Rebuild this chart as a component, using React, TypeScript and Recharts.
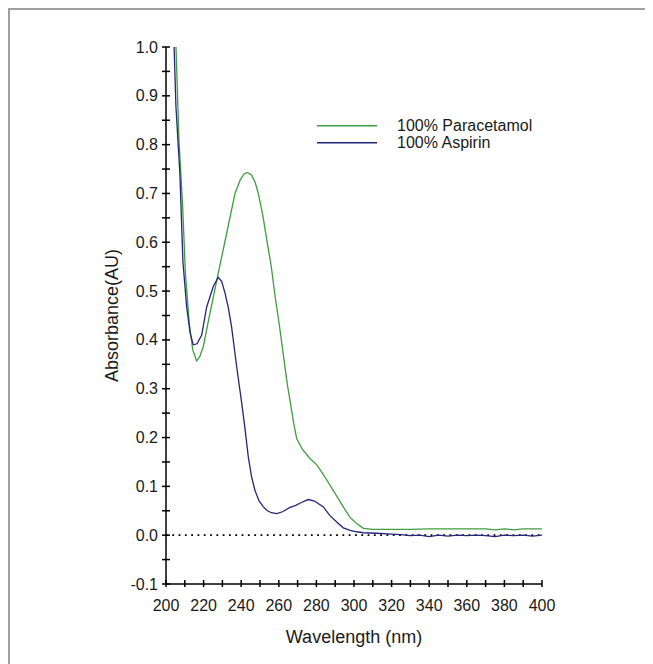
import React from 'react';
import { LineChart, Line, XAxis, YAxis, ReferenceLine, Legend } from 'recharts';

const paracetamolNm = [
  205.3, 206.9, 208.9, 210.3, 212.4, 214.2, 216.3, 218.0, 219.8, 223.4, 227.8, 232.3, 236.7,
  239.5, 241.5, 243.2, 245.5, 247.5, 249.1, 251.5, 253.6, 256.0, 258.0, 260.3, 262.4, 264.5,
  266.0, 268.0, 269.5, 272.5, 276.6, 280.2, 283.0, 285.5, 290.0, 294.3, 298.0, 301.4, 305.0,
  310.0, 320.0, 330.0, 340.0, 350.0, 360.0, 370.0, 375.0, 380.0, 385.0, 390.0, 400.0,
];
const paracetamolAbs = [
  1.0, 0.81, 0.67, 0.537, 0.434, 0.38, 0.357, 0.366, 0.386, 0.455, 0.537, 0.619, 0.7,
  0.728, 0.74, 0.743, 0.738, 0.722, 0.7, 0.655, 0.605, 0.55, 0.49, 0.43, 0.37, 0.31,
  0.275, 0.228, 0.198, 0.176, 0.157, 0.144, 0.128, 0.113, 0.085, 0.058, 0.036, 0.024, 0.014,
  0.012, 0.012, 0.012, 0.013, 0.013, 0.013, 0.013, 0.011, 0.013, 0.011, 0.013, 0.013,
];

const aspirinNm = [
  204.3, 205.3, 207.4, 209.0, 211.0, 212.8, 214.5, 216.5, 219.0, 221.6, 225.2, 227.8, 229.6,
  231.4, 233.2, 234.9, 237.6, 240.3, 241.8, 243.8, 245.5, 247.3, 249.5, 251.8, 253.6, 256.0,
  258.9, 262.0, 266.0, 269.0, 272.0, 275.7, 279.0, 283.7, 287.2, 290.8, 294.3, 297.9, 301.4,
  305.0, 312.0, 320.0, 325.0, 330.0, 335.0, 340.0, 345.0, 350.0, 355.0, 360.0, 365.0, 370.0,
  375.0, 380.0, 385.0, 390.0, 395.0, 400.0,
];
const aspirinAbs = [
  1.0, 0.877, 0.74, 0.56, 0.467, 0.415, 0.39, 0.392, 0.41, 0.467, 0.51, 0.528, 0.52,
  0.496, 0.465, 0.426, 0.345, 0.27, 0.225, 0.16, 0.12, 0.092, 0.07, 0.058, 0.051, 0.046,
  0.044, 0.048, 0.057, 0.061, 0.067, 0.073, 0.07, 0.058, 0.04, 0.027, 0.015, 0.01, 0.007,
  0.005, 0.004, 0.002, 0.001, -0.001, 0.0, -0.003, 0.0, -0.002, 0.0, -0.001, 0.0, -0.001,
  -0.003, 0.0, -0.001, 0.0, -0.002, 0.0,
];

const xTicks = [200, 210, 220, 230, 240, 250, 260, 270, 280, 290, 300, 310, 320, 330, 340, 350, 360, 370, 380, 390, 400];
const yTicks = [-0.1, -0.05, 0, 0.05, 0.1, 0.15, 0.2, 0.25, 0.3, 0.35, 0.4, 0.45, 0.5, 0.55, 0.6, 0.65, 0.7, 0.75, 0.8, 0.85, 0.9, 0.95, 1.0];

const seriesNames = ['100% Paracetamol', '100% Aspirin'];
const seriesColors = ['#3f9c3f', '#25257a'];

const paracetamolData = paracetamolNm.map((nm, i) => ({ nm, abs: paracetamolAbs[i] }));
const aspirinData = aspirinNm.map((nm, i) => ({ nm, abs: aspirinAbs[i] }));

const FONT = '"Liberation Sans", Arial, sans-serif';
const TEXT = '#1a1a1a';

const XTick = (props: any) => {
  const { x, y, payload } = props;
  const v = payload.value;
  const major = v % 20 === 0;
  return (
    <g>
      <line x1={x} x2={x} y1={y - 4} y2={y + 3} stroke="#000" strokeWidth={1.5} />
      {major && (
        <text x={x} y={y + 27} textAnchor="middle" fontSize={16} fill={TEXT} fontFamily={FONT}>
          {v}
        </text>
      )}
    </g>
  );
};

const YTick = (props: any) => {
  const { x, y, payload } = props;
  const v = payload.value;
  const major = Math.abs(Math.round(v * 100)) % 10 === 0;
  return (
    <g>
      <line x1={x - 4} x2={x + 4} y1={y} y2={y} stroke="#000" strokeWidth={1.5} />
      {major && (
        <text x={x - 8} y={y + 5.5} textAnchor="end" fontSize={16} fill={TEXT} fontFamily={FONT}>
          {v.toFixed(1)}
        </text>
      )}
    </g>
  );
};

const LegendContent = () => (
  <svg width={260} height={50} style={{ display: 'block' }}>
    {seriesNames.map((name, i) => (
      <g key={name}>
        <line x1={7} x2={67} y1={15.7 + i * 17} y2={15.7 + i * 17} stroke={seriesColors[i]} strokeWidth={1.5} />
        <text x={87} y={15.7 + i * 17 + 5.5} fontSize={16} fill={TEXT} fontFamily={FONT}>
          {name}
        </text>
      </g>
    ))}
  </svg>
);

export default function App() {
  return (
    <div
      style={{
        width: 643,
        height: 654,
        borderTop: '2px solid #a0a0a0',
        borderLeft: '2px solid #a0a0a0',
        background: '#fff',
        fontFamily: FONT,
      }}
    >
      <LineChart width={643} height={654} margin={{ top: 37, right: 111, bottom: 0, left: 0 }}>
        <XAxis
          dataKey="nm"
          type="number"
          domain={[200, 400]}
          ticks={xTicks}
          interval={0}
          allowDataOverflow
          tickSize={0}
          tickMargin={0}
          tickLine={false}
          height={80}
          axisLine={{ stroke: '#000', strokeWidth: 1.5 }}
          tick={<XTick />}
          label={{ value: 'Wavelength (nm)', position: 'insideBottom', offset: 21, fill: TEXT, fontSize: 18, fontFamily: FONT }}
        />
        <YAxis
          type="number"
          domain={[-0.1, 1.0]}
          ticks={yTicks}
          interval={0}
          allowDataOverflow
          tickSize={0}
          tickMargin={0}
          tickLine={false}
          width={156}
          axisLine={{ stroke: '#000', strokeWidth: 1.5 }}
          tick={<YTick />}
          label={{
            value: 'Absorbance(AU)',
            angle: -90,
            position: 'insideLeft',
            offset: 102,
            fill: TEXT,
            fontSize: 18,
            fontFamily: FONT,
            style: { textAnchor: 'middle' },
          }}
        />
        <ReferenceLine y={0} stroke="#000" strokeWidth={1.8} strokeDasharray="1.8 4.5" ifOverflow="hidden" />
        <Line
          data={paracetamolData}
          dataKey="abs"
          name={seriesNames[0]}
          type="linear"
          stroke={seriesColors[0]}
          strokeWidth={1.3}
          dot={false}
          activeDot={false}
          isAnimationActive={false}
        />
        <Line
          data={aspirinData}
          dataKey="abs"
          name={seriesNames[1]}
          type="linear"
          stroke={seriesColors[1]}
          strokeWidth={1.3}
          dot={false}
          activeDot={false}
          isAnimationActive={false}
        />
        <Legend
          layout="vertical"
          align="center"
          verticalAlign="middle"
          content={<LegendContent />}
          wrapperStyle={{ position: 'absolute', left: 300, top: 100, width: 260, height: 50 }}
        />
      </LineChart>
    </div>
  );
}
